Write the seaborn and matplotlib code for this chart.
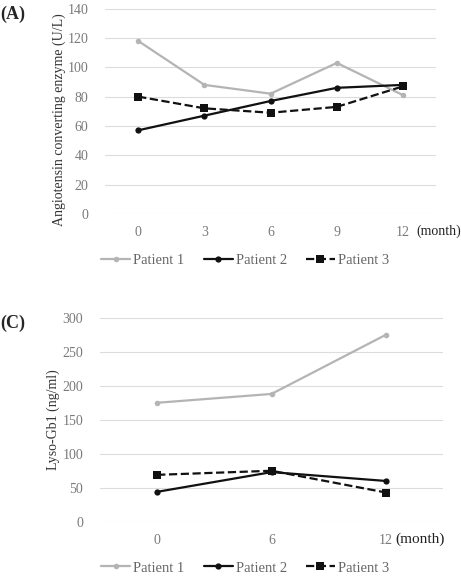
import pandas as pd
import numpy as np
import seaborn as sns
from matplotlib import pyplot as plt
from matplotlib.lines import Line2D

# panel A: angiotensin converting enzyme
months_a = ['0', '3', '6', '9', '12']
ace_p1 = [118, 88, 82, 103, 81]
ace_p2 = [57, 67, 77, 86, 88]
ace_p3 = [80, 72, 69, 73, 87]

# panel C: lyso-Gb1
months_c = ['0', '6', '12']
lyso_p1 = [175, 188, 275]
lyso_p2 = [44, 73, 60]
lyso_p3 = [69, 75, 43]

patients = ['Patient 1', 'Patient 2', 'Patient 3']
colors = {'Patient 1': '#b4b4b4', 'Patient 2': '#111111', 'Patient 3': '#111111'}
markers = {'Patient 1': 'o', 'Patient 2': 'o', 'Patient 3': 's'}
msizes = {'Patient 1': 4, 'Patient 2': 4.5, 'Patient 3': 5.5}


def make_df(months, series):
    rows = []
    for name, vals in zip(patients, series):
        for m, v in zip(months, vals):
            rows.append({'Month': m, 'Value': v, 'Patient': name})
    return pd.DataFrame(rows)


sns.set_style('white')
plt.rcParams['font.family'] = ['Liberation Serif', 'DejaVu Serif']

fig = plt.figure(figsize=(4.61, 5.81), dpi=100)
ax_a = fig.add_axes([0.228, 0.632, 0.718, 0.353])
ax_c = fig.add_axes([0.217, 0.102, 0.744, 0.351])


def draw(ax, months, series, ymax, ystep, ylabel, tag, tag_y, month_x, month_fs, ylab_x, ylab_y):
    df = make_df(months, series)
    for name in patients:
        sub = df[df['Patient'] == name]
        sns.lineplot(data=sub, x='Month', y='Value', ax=ax, color=colors[name],
                     marker=markers[name], markersize=msizes[name], markeredgewidth=0,
                     linewidth=1.6, linestyle='--' if name == 'Patient 3' else '-',
                     sort=False, legend=False, zorder=3)
    ax.set_xlim(-0.5, len(months) - 0.5)
    ax.set_ylim(0, ymax)
    ax.set_yticks(np.arange(0, ymax + 1, ystep))
    ax.grid(axis='y', color='#dcdcdc', linewidth=0.8)
    ax.grid(axis='x', visible=False)
    for s in ax.spines.values():
        s.set_visible(False)
    ax.tick_params(axis='both', length=0, labelsize=10, labelcolor='#7a7a7a')
    ax.tick_params(axis='y', pad=12)
    ax.tick_params(axis='x', pad=9)
    ax.set_xlabel('')
    ax.set_ylabel(ylabel, fontsize=10, color='#333333')
    ax.yaxis.set_label_coords(ylab_x, ylab_y)
    fig.text(0.0, tag_y, tag, fontsize=13, fontweight='bold', va='center', ha='left')
    ax.text(month_x, -0.085, '(month)', transform=ax.transAxes, fontsize=month_fs,
            color='#222222', va='center', ha='left')
    handles = [Line2D([0], [0], color=colors[n], marker=markers[n], markersize=msizes[n],
                      markeredgewidth=0, linewidth=1.6,
                      linestyle='--' if n == 'Patient 3' else '-') for n in patients]
    ax.legend(handles, patients, loc='upper center', bbox_to_anchor=(0.423, -0.13),
              ncol=3, frameon=False, fontsize=10.5, handlelength=2.0, handletextpad=0.2,
              columnspacing=1.3, labelcolor='#666666')


draw(ax_a, months_a, [ace_p1, ace_p2, ace_p3], 140, 20,
     'Angiotensin converting enzyme (U/L)', '(A)', 0.975, 0.94, 10, -0.118, 0.46)
draw(ax_c, months_c, [lyso_p1, lyso_p2, lyso_p3], 300, 50,
     'Lyso-Gb1 (ng/ml)', '(C)', 0.444, 0.86, 11, -0.117, 0.5)

plt.savefig('out.png', dpi=100)
plt.close()
